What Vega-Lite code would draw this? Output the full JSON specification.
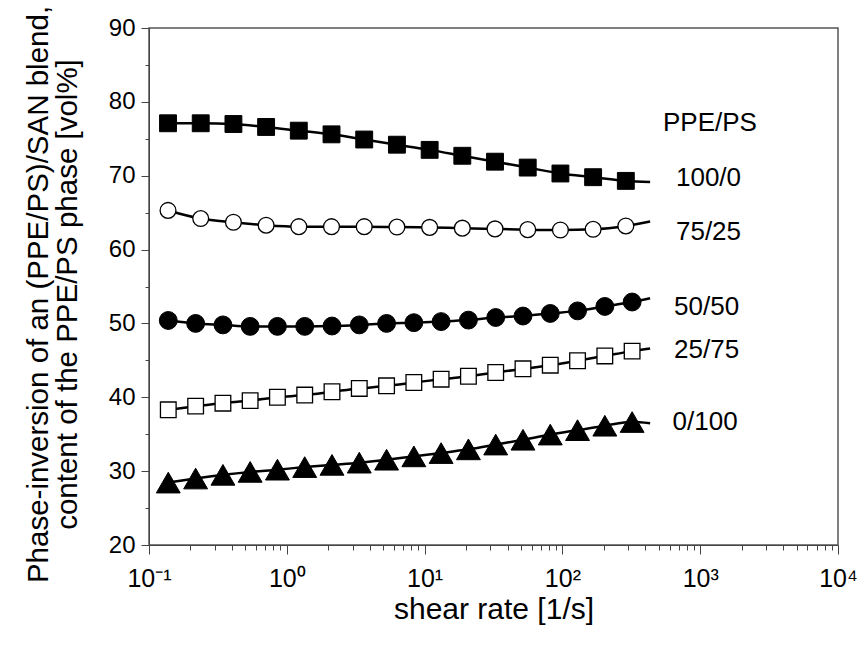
{
  "$schema": "https://vega.github.io/schema/vega-lite/v6.json",
  "width": 689,
  "height": 517,
  "autosize": "none",
  "padding": {"left": 149, "top": 28, "right": 20, "bottom": 101},
  "background": "white",
  "config": {
    "font": "Liberation Sans",
    "view": {"stroke": "#555", "strokeWidth": 1.5}
  },
  "datasets": {
    "pts": [
      {"series": "100/0", "kind": "m", "rate": 0.1374, "value": 77.1},
      {"series": "100/0", "kind": "m", "rate": 0.2373, "value": 77.1},
      {"series": "100/0", "kind": "m", "rate": 0.4099, "value": 77.0},
      {"series": "100/0", "kind": "m", "rate": 0.7078, "value": 76.6},
      {"series": "100/0", "kind": "m", "rate": 1.222, "value": 76.1},
      {"series": "100/0", "kind": "m", "rate": 2.111, "value": 75.6},
      {"series": "100/0", "kind": "m", "rate": 3.646, "value": 74.9},
      {"series": "100/0", "kind": "m", "rate": 6.297, "value": 74.2},
      {"series": "100/0", "kind": "m", "rate": 10.88, "value": 73.5},
      {"series": "100/0", "kind": "m", "rate": 18.78, "value": 72.7},
      {"series": "100/0", "kind": "m", "rate": 32.43, "value": 71.9},
      {"series": "100/0", "kind": "m", "rate": 56.02, "value": 71.1},
      {"series": "100/0", "kind": "m", "rate": 96.74, "value": 70.3},
      {"series": "100/0", "kind": "m", "rate": 167.1, "value": 69.8},
      {"series": "100/0", "kind": "m", "rate": 288.6, "value": 69.3},
      {"series": "100/0", "kind": "fit", "rate": 433, "value": 69.15},

      {"series": "75/25", "kind": "m", "rate": 0.1374, "value": 65.3},
      {"series": "75/25", "kind": "m", "rate": 0.2373, "value": 64.2},
      {"series": "75/25", "kind": "m", "rate": 0.4099, "value": 63.7},
      {"series": "75/25", "kind": "m", "rate": 0.7078, "value": 63.3},
      {"series": "75/25", "kind": "m", "rate": 1.222, "value": 63.1},
      {"series": "75/25", "kind": "m", "rate": 2.111, "value": 63.1},
      {"series": "75/25", "kind": "m", "rate": 3.646, "value": 63.1},
      {"series": "75/25", "kind": "m", "rate": 6.297, "value": 63.05},
      {"series": "75/25", "kind": "m", "rate": 10.88, "value": 63.0},
      {"series": "75/25", "kind": "m", "rate": 18.78, "value": 62.9},
      {"series": "75/25", "kind": "m", "rate": 32.43, "value": 62.8},
      {"series": "75/25", "kind": "m", "rate": 56.02, "value": 62.7},
      {"series": "75/25", "kind": "m", "rate": 96.74, "value": 62.65},
      {"series": "75/25", "kind": "m", "rate": 167.1, "value": 62.75},
      {"series": "75/25", "kind": "m", "rate": 288.6, "value": 63.2},
      {"series": "75/25", "kind": "fit", "rate": 433, "value": 63.8},

      {"series": "50/50", "kind": "m", "rate": 0.138, "value": 50.4},
      {"series": "50/50", "kind": "m", "rate": 0.218, "value": 50.0},
      {"series": "50/50", "kind": "m", "rate": 0.344, "value": 49.8},
      {"series": "50/50", "kind": "m", "rate": 0.542, "value": 49.6},
      {"series": "50/50", "kind": "m", "rate": 0.855, "value": 49.6},
      {"series": "50/50", "kind": "m", "rate": 1.349, "value": 49.6},
      {"series": "50/50", "kind": "m", "rate": 2.128, "value": 49.65},
      {"series": "50/50", "kind": "m", "rate": 3.357, "value": 49.8},
      {"series": "50/50", "kind": "m", "rate": 5.297, "value": 50.0},
      {"series": "50/50", "kind": "m", "rate": 8.356, "value": 50.1},
      {"series": "50/50", "kind": "m", "rate": 13.18, "value": 50.25},
      {"series": "50/50", "kind": "m", "rate": 20.8, "value": 50.45},
      {"series": "50/50", "kind": "m", "rate": 32.81, "value": 50.8},
      {"series": "50/50", "kind": "m", "rate": 51.76, "value": 51.0},
      {"series": "50/50", "kind": "m", "rate": 81.66, "value": 51.35},
      {"series": "50/50", "kind": "m", "rate": 128.8, "value": 51.7},
      {"series": "50/50", "kind": "m", "rate": 203.2, "value": 52.3},
      {"series": "50/50", "kind": "m", "rate": 320.6, "value": 52.9},
      {"series": "50/50", "kind": "fit", "rate": 433, "value": 53.4},

      {"series": "25/75", "kind": "m", "rate": 0.138, "value": 38.3},
      {"series": "25/75", "kind": "m", "rate": 0.218, "value": 38.8},
      {"series": "25/75", "kind": "m", "rate": 0.344, "value": 39.2},
      {"series": "25/75", "kind": "m", "rate": 0.542, "value": 39.55},
      {"series": "25/75", "kind": "m", "rate": 0.855, "value": 40.0},
      {"series": "25/75", "kind": "m", "rate": 1.349, "value": 40.3},
      {"series": "25/75", "kind": "m", "rate": 2.128, "value": 40.75},
      {"series": "25/75", "kind": "m", "rate": 3.357, "value": 41.2},
      {"series": "25/75", "kind": "m", "rate": 5.297, "value": 41.55},
      {"series": "25/75", "kind": "m", "rate": 8.356, "value": 42.0},
      {"series": "25/75", "kind": "m", "rate": 13.18, "value": 42.45},
      {"series": "25/75", "kind": "m", "rate": 20.8, "value": 42.85},
      {"series": "25/75", "kind": "m", "rate": 32.81, "value": 43.35},
      {"series": "25/75", "kind": "m", "rate": 51.76, "value": 43.85},
      {"series": "25/75", "kind": "m", "rate": 81.66, "value": 44.35},
      {"series": "25/75", "kind": "m", "rate": 128.8, "value": 44.95},
      {"series": "25/75", "kind": "m", "rate": 203.2, "value": 45.6},
      {"series": "25/75", "kind": "m", "rate": 320.6, "value": 46.25},
      {"series": "25/75", "kind": "fit", "rate": 433, "value": 46.6},

      {"series": "0/100", "kind": "m", "rate": 0.138, "value": 28.45},
      {"series": "0/100", "kind": "m", "rate": 0.218, "value": 29.0},
      {"series": "0/100", "kind": "m", "rate": 0.344, "value": 29.5},
      {"series": "0/100", "kind": "m", "rate": 0.542, "value": 29.9},
      {"series": "0/100", "kind": "m", "rate": 0.855, "value": 30.2},
      {"series": "0/100", "kind": "m", "rate": 1.349, "value": 30.55},
      {"series": "0/100", "kind": "m", "rate": 2.128, "value": 30.85},
      {"series": "0/100", "kind": "m", "rate": 3.357, "value": 31.15},
      {"series": "0/100", "kind": "m", "rate": 5.297, "value": 31.55},
      {"series": "0/100", "kind": "m", "rate": 8.356, "value": 32.0},
      {"series": "0/100", "kind": "m", "rate": 13.18, "value": 32.45},
      {"series": "0/100", "kind": "m", "rate": 20.8, "value": 32.95},
      {"series": "0/100", "kind": "m", "rate": 32.81, "value": 33.6},
      {"series": "0/100", "kind": "m", "rate": 51.76, "value": 34.25},
      {"series": "0/100", "kind": "m", "rate": 81.66, "value": 34.95},
      {"series": "0/100", "kind": "m", "rate": 128.8, "value": 35.55},
      {"series": "0/100", "kind": "m", "rate": 203.2, "value": 36.15},
      {"series": "0/100", "kind": "m", "rate": 320.6, "value": 36.65},
      {"series": "0/100", "kind": "fit", "rate": 433, "value": 36.5}
    ],
    "labels": [
      {"text": "PPE/PS", "rate": 537, "value": 77.1},
      {"text": "100/0", "rate": 667, "value": 69.7},
      {"text": "75/25", "rate": 667, "value": 62.4},
      {"text": "50/50", "rate": 646, "value": 52.2},
      {"text": "25/75", "rate": 646, "value": 46.4},
      {"text": "0/100", "rate": 630, "value": 36.7}
    ]
  },
  "encoding": {
    "x": {
      "field": "rate",
      "type": "quantitative",
      "scale": {"type": "log", "domain": [0.1, 10000], "nice": false},
      "axis": {
        "title": "shear rate [1/s]",
        "titleFontSize": 30,
        "titleFontWeight": "normal",
        "titleColor": "black",
        "titlePadding": 3,
        "values": [0.1, 0.2, 0.3, 0.4, 0.5, 0.6, 0.7, 0.8, 0.9, 1, 2, 3, 4, 5, 6, 7, 8, 9, 10, 20, 30, 40, 50, 60, 70, 80, 90, 100, 200, 300, 400, 500, 600, 700, 800, 900, 1000, 2000, 3000, 4000, 5000, 6000, 7000, 8000, 9000, 10000],
        "labelExpr": "datum.value == 0.1 ? '10⁻¹' : datum.value == 1 ? '10⁰' : datum.value == 10 ? '10¹' : datum.value == 100 ? '10²' : datum.value == 1000 ? '10³' : datum.value == 10000 ? '10⁴' : ''",
        "labelFontSize": 25,
        "labelColor": "black",
        "labelOverlap": false,
        "labelFlush": false,
        "labelBound": false,
        "labelPadding": 12,
        "tickSize": {"condition": {"test": "indexof([0.1,1,10,100,1000,10000], datum.value) >= 0", "value": 9}, "value": 5},
        "tickColor": "#444",
        "domainColor": "#444",
        "grid": false
      }
    },
    "y": {
      "field": "value",
      "type": "quantitative",
      "scale": {"domain": [20, 90], "nice": false, "zero": false},
      "axis": {
        "title": ["Phase-inversion of an (PPE/PS)/SAN blend,", "content of the PPE/PS phase [vol%]"],
        "titleFontSize": 29.5,
        "titleFontWeight": "normal",
        "titleColor": "black",
        "titlePadding": 26,
        "titleLineHeight": 29,
        "titleY": 266,
        "values": [20, 25, 30, 35, 40, 45, 50, 55, 60, 65, 70, 75, 80, 85, 90],
        "labelExpr": "datum.value % 10 == 0 ? datum.label : ''",
        "labelFontSize": 24,
        "labelColor": "black",
        "labelPadding": 6,
        "labelFlush": false,
        "labelOverlap": false,
        "tickSize": {"condition": {"test": "datum.value % 10 == 0", "value": 8}, "value": 4},
        "tickColor": "#444",
        "domainColor": "#444",
        "grid": false
      }
    }
  },
  "layer": [
    {
      "mark": {"type": "rule", "strokeDash": [5, 9], "strokeWidth": 3, "color": "black"},
      "encoding": {"y": {"datum": 60}, "x": null}
    },
    {
      "data": {"name": "pts"},
      "mark": {"type": "line", "interpolate": "monotone", "color": "black", "strokeWidth": 2.5},
      "encoding": {"detail": {"field": "series"}}
    },
    {
      "data": {"name": "pts"},
      "transform": [{"filter": "datum.kind == 'm' && datum.series == '100/0'"}],
      "mark": {"type": "point", "shape": "square", "size": 285, "opacity": 1, "filled": true, "fill": "black", "stroke": "black", "strokeWidth": 1}
    },
    {
      "data": {"name": "pts"},
      "transform": [{"filter": "datum.kind == 'm' && datum.series == '75/25'"}],
      "mark": {"type": "point", "shape": "circle", "size": 250, "opacity": 1, "filled": true, "fill": "white", "stroke": "black", "strokeWidth": 1.3}
    },
    {
      "data": {"name": "pts"},
      "transform": [{"filter": "datum.kind == 'm' && datum.series == '50/50'"}],
      "mark": {"type": "point", "shape": "circle", "size": 320, "opacity": 1, "filled": true, "fill": "black", "stroke": "black", "strokeWidth": 1}
    },
    {
      "data": {"name": "pts"},
      "transform": [{"filter": "datum.kind == 'm' && datum.series == '25/75'"}],
      "mark": {"type": "point", "shape": "square", "size": 245, "opacity": 1, "filled": true, "fill": "white", "stroke": "black", "strokeWidth": 1.3}
    },
    {
      "data": {"name": "pts"},
      "transform": [{"filter": "datum.kind == 'm' && datum.series == '0/100'"}],
      "mark": {"type": "point", "shape": "triangle-up", "size": 570, "opacity": 1, "filled": true, "fill": "black", "stroke": "black", "strokeWidth": 1}
    },
    {
      "data": {"name": "labels"},
      "mark": {"type": "text", "align": "left", "baseline": "middle", "fontSize": 26, "color": "black"},
      "encoding": {"text": {"field": "text"}}
    }
  ]
}
